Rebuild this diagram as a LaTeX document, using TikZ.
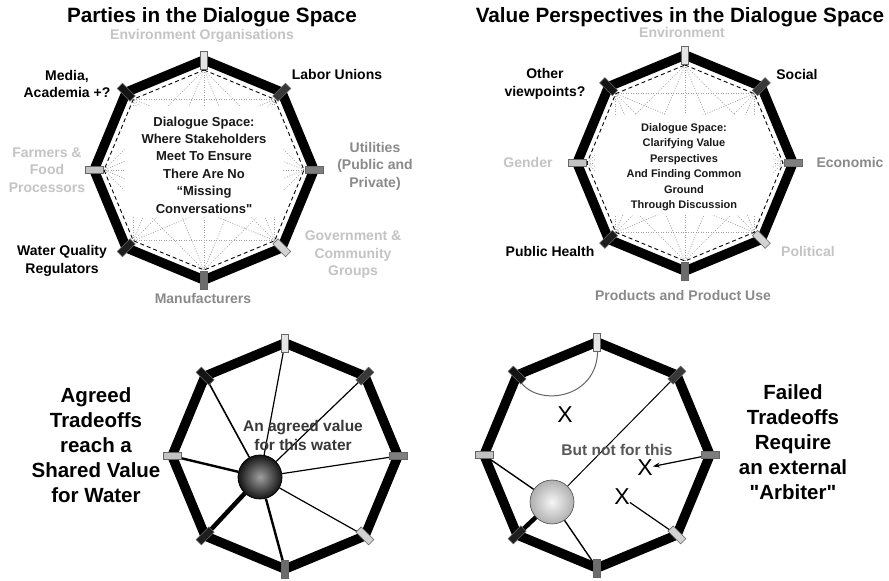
\documentclass[tikz,border=0pt]{standalone}
\usepackage{fontspec}
\setmainfont{Liberation Sans}
\usetikzlibrary{arrows.meta,positioning}
\definecolor{lightlbl}{HTML}{C4C4C4}
\definecolor{midlbl}{HTML}{8A8A8A}
\definecolor{webgray}{HTML}{A0A0A0}
\definecolor{mk0}{HTML}{E4E4E4}
\definecolor{mk1}{HTML}{383838}
\definecolor{mk2}{HTML}{7E7E7E}
\definecolor{mk3}{HTML}{D2D2D2}
\definecolor{mk4}{HTML}{6C6C6C}
\definecolor{mk5}{HTML}{1E1E1E}
\definecolor{mk6}{HTML}{C2C2C2}
\definecolor{mk7}{HTML}{141414}

\begin{document}
\begin{tikzpicture}[x=1pt, y=1pt,
    every node/.style={font=\bfseries\fontsize{14}{17.5}\selectfont, align=center, inner sep=0pt},
    titletext/.style={font=\bfseries\fontsize{20.7}{24}\selectfont},
    bigtext/.style={font=\bfseries\fontsize{20.5}{25}\selectfont},
    midtext/.style={font=\bfseries\fontsize{15.5}{19}\selectfont},
    rim/.style={line width=9.5pt, line join=miter},
    vmarker/.style={draw=black!60, line width=0.6pt, minimum width=18pt, minimum height=7.5pt},
    dashrim/.style={line width=0.9pt, dash pattern=on 4pt off 3pt},
    webline/.style={webgray, line width=0.65pt, dash pattern=on 1pt off 1.5pt},
    crossmark/.style={font=\fontsize{23}{23}\selectfont}]
  \fill[white] (0,0) rectangle (889,581);
  \useasboundingbox (0,0) rectangle (889,581);

  % corners of the four octagons (outer) and of the two inner ones
  \foreach \p/\cx/\cy/\r in {a/204/411/110,b/685/418/108,c/285/125/113,d/597/126/113}{
    \foreach \i in {0,...,7}{
      \coordinate (\p\i) at ({\cx+\r*cos(90-45*\i)},{\cy+\r*sin(90-45*\i)});
      \coordinate (\p i\i) at ({\cx+(\r-10)*cos(90-45*\i)},{\cy+(\r-10)*sin(90-45*\i)});
    }
  }

  % dialogue webs
  \foreach \p in {a,b}{
    \foreach \i in {0,...,7}{
      \foreach \j in {0,...,7}{
        \pgfmathtruncatemacro\gap{\j-\i}
        \ifnum\gap>1 \ifnum\gap<7 \draw[webline] (\p i\i) -- (\p i\j);\fi\fi
      }
    }
  }
  \node[fill=white, rounded corners=10pt, minimum width=158pt, minimum height=111pt] (boxa) at (204,419) {};
  \node[fill=white, rounded corners=10pt, minimum width=178pt, minimum height=100pt] (boxb) at (684,416) {};
  \foreach \p in {a,b}{
    \draw[dashrim] (\p i0) -- (\p i1) -- (\p i2) -- (\p i3) -- (\p i4) -- (\p i5) -- (\p i6) -- (\p i7) -- cycle;
  }
  \node[font=\bfseries\fontsize{13}{17.4}\selectfont, text=black!90] (spacea) at (204,416)
    {Dialogue Space:\\Where Stakeholders\\Meet To Ensure\\There Are No\\“Missing\\Conversations\textquotedbl};
  \node[font=\bfseries\fontsize{11}{15.5}\selectfont, text=black!90] (spaceb) at (684,414)
    {Dialogue Space:\\Clarifying Value\\Perspectives\\And Finding Common\\Ground\\Through Discussion};

  % agreed tradeoffs
  \node[circle, draw=black, line width=0.8pt, minimum size=44pt, inner color=gray!75, outer color=black!92] (ballc) at (260,104) {};
  \foreach \i/\w in {0/1.2,1/1.2,2/1.2,3/1.2,4/2.4,5/4.5,6/2.4,7/1.6}
    \draw[line width=\w pt] (c\i) -- (ballc);
  \node[midtext, text=black!78] (agreedval) at (303,145.5) {An agreed value\\for this water};

  % failed tradeoffs
  \node[circle, draw=black!70, line width=0.6pt, minimum size=44pt, inner color=gray!8, outer color=gray!62] (balld) at (552,79) {};
  \draw[line width=1pt] (d1) -- (balld);
  \draw[line width=1.4pt] (d6) -- (balld);
  \draw[line width=1.4pt] (balld) -- (d4);
  \draw[line width=4.5pt] (d5) -- (balld);
  \draw[black!60, line width=1pt] (d7) .. controls +(12,-35) and +(8,-60) .. (d0);
  \node[crossmark] (xa) at (565,166) {X};
  \node[crossmark] (xb) at (645,113) {X};
  \node[crossmark] (xc) at (622,84) {X};
  \draw[-{Stealth[length=7pt,width=5pt]}, line width=1.2pt] (d2) -- (xb);
  \draw[line width=1.2pt] (d3) -- (xc);
  \node[midtext, text=black!66] (notthis) at (617,131) {But not for this};

  % octagon rims and party markers
  \foreach \p in {a,b,c,d}{
    \draw[rim] (\p0) -- (\p1) -- (\p2) -- (\p3) -- (\p4) -- (\p5) -- (\p6) -- (\p7) -- cycle;
    \foreach \i in {0,...,7}
      \node[vmarker, fill=mk\i, rotate={90-45*\i}] (\p m\i) at (\p\i) {};
  }

  % titles
  \node[titletext] (titlea) at (212,564) {Parties in the Dialogue Space};
  \node[titletext] (titleb) at (680,564) {Value Perspectives in the Dialogue Space};

  % parties
  \node[text=lightlbl] (envorg) at (202,545) {Environment Organisations};
  \node (media) at (67,497) {Media,\\Academia +?};
  \node (labor) at (337,506) {Labor Unions};
  \node[text=midlbl] (util) at (375,415) {Utilities\\(Public and\\Private)};
  \node[text=lightlbl] (farm) at (47,411) {Farmers \&\\Food\\Processors};
  \node[text=lightlbl] (gov) at (353,326) {Government \&\\Community\\Groups};
  \node (waterq) at (62,320) {Water Quality\\Regulators};
  \node[text=midlbl] (manuf) at (203,283) {Manufacturers};

  % value perspectives
  \node[text=lightlbl] (env) at (682,548) {Environment};
  \node (other) at (545,497) {Other\\viewpoints?};
  \node (social) at (797,506) {Social};
  \node[text=midlbl] (econ) at (850,418) {Economic};
  \node[text=lightlbl] (gender) at (528,418) {Gender};
  \node (health) at (550,329) {Public Health};
  \node[text=lightlbl] (polit) at (808,329) {Political};
  \node[text=midlbl] (prod) at (683,286) {Products and Product Use};

  % captions
  \node[bigtext] (agreed) at (96,136) {Agreed\\Tradeoffs\\reach a\\Shared Value\\for Water};
  \node[bigtext] (failed) at (793,139) {Failed\\Tradeoffs\\Require\\an external\\\textquotedbl Arbiter\textquotedbl};
\end{tikzpicture}
\end{document}
